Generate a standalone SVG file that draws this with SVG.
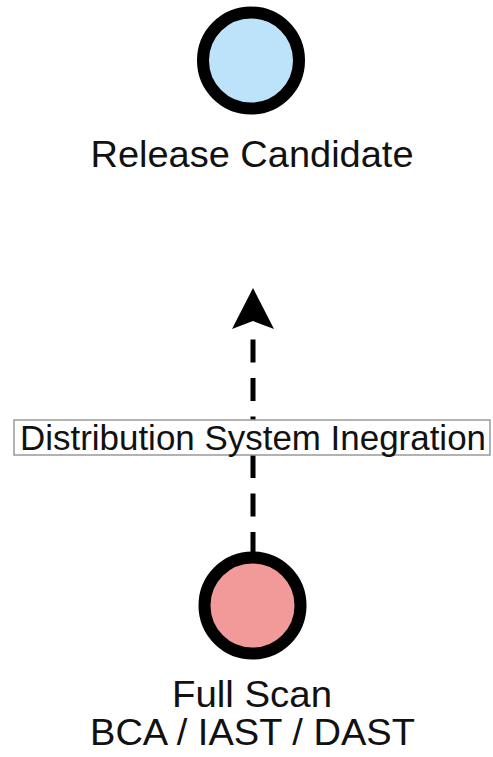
<svg xmlns="http://www.w3.org/2000/svg" width="493" height="757" viewBox="0 0 493 757">
  <style>
    .node { stroke: #000; stroke-width: 12; }
    .label { font-family: "Liberation Sans", Arial, Helvetica, sans-serif; font-size: 37px; fill: #111; text-anchor: middle; }
    .edge { fill: none; stroke: #000; stroke-width: 5; stroke-dasharray: 23 15.5; }
    .edge-label-box { fill: #fff; stroke: #999; stroke-width: 1.5; }
    .edge-label { font-family: "Liberation Sans", Arial, Helvetica, sans-serif; font-size: 35px; fill: #111; text-anchor: middle; }
  </style>

  <g id="connectors">
    <path class="edge" d="M253 555 L253 326"/>
    <polygon points="253,288 274,329 253,321 232,329" fill="#000"/>
    <g id="edge-label">
      <rect class="edge-label-box" x="14" y="420" width="476" height="35"/>
      <text class="edge-label" x="253" y="450" textLength="466" lengthAdjust="spacingAndGlyphs">Distribution System Inegration</text>
    </g>
  </g>

  <g id="release-candidate">
    <circle class="node" cx="251" cy="60.5" r="48" fill="#BDE3FA"/>
    <text class="label" x="252" y="167" textLength="323" lengthAdjust="spacingAndGlyphs">Release Candidate</text>
  </g>

  <g id="full-scan">
    <circle class="node" cx="252.5" cy="605.5" r="48" fill="#F29A9A"/>
    <text class="label" x="252" y="707" textLength="160" lengthAdjust="spacingAndGlyphs">Full Scan</text>
    <text class="label" x="252.5" y="745" textLength="325" lengthAdjust="spacingAndGlyphs">BCA / IAST / DAST</text>
  </g>
</svg>
